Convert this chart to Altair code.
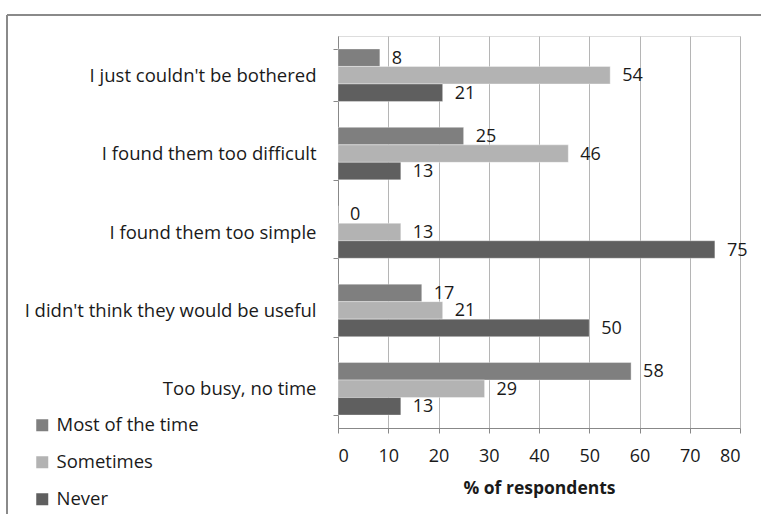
import altair as alt
import pandas as pd

categories = [
    "I just couldn't be bothered",
    "I found them too difficult",
    "I found them too simple",
    "I didn't think they would be useful",
    "Too busy, no time",
]
series = ["Most of the time", "Sometimes", "Never"]
most_of_the_time = [8.33, 25.0, 0.0, 16.67, 58.33]
sometimes = [54.17, 45.83, 12.5, 20.83, 29.17]
never = [20.83, 12.5, 75.0, 50.0, 12.5]
colors = ["#7f7f7f", "#b3b3b3", "#5f5f5f"]
x_ticks = [0, 10, 20, 30, 40, 50, 60, 70, 80]

rows = []
for i, c in enumerate(categories):
    for s, vals in zip(series, [most_of_the_time, sometimes, never]):
        rows.append({"cat": c, "series": s, "value": vals[i], "label": str(int(vals[i] + 0.5))})
df = pd.DataFrame(rows)

FONT = "Open Sans"
TXT = "#1a1a1a"

y_enc = alt.Y(
    "cat:N",
    sort=categories,
    title=None,
    scale=alt.Scale(paddingInner=0.33, paddingOuter=0.165),
    axis=alt.Axis(
        labelFontSize=18.5,
        labelFont=FONT,
        labelColor=TXT,
        labelPadding=17,
        tickSize=5,
        tickBand="extent",
        tickColor="#888888",
        domainColor="#888888",
        labelLimit=400,
    ),
)
yoff = alt.YOffset("series:N", sort=series, scale=alt.Scale(paddingInner=0, paddingOuter=0))
x_enc = alt.X(
    "value:Q",
    title="% of respondents",
    scale=alt.Scale(domain=[0, 80], nice=False),
    axis=alt.Axis(
        values=x_ticks,
        labelFontSize=18,
        labelFont=FONT,
        labelColor=TXT,
        labelPadding=14,
        tickSize=5,
        tickColor="#888888",
        domainColor="#888888",
        gridColor="#b5b5b5",
        titleFont=FONT,
        titleFontSize=17.5,
        titleFontWeight="bold",
        titleColor=TXT,
        titlePadding=14,
    ),
)

bars = alt.Chart(df).mark_bar(stroke="#ffffff", strokeWidth=0.6, strokeOpacity=0.6).encode(
    y=y_enc,
    yOffset=yoff,
    x=x_enc,
    color=alt.Color(
        "series:N",
        sort=series,
        scale=alt.Scale(domain=series, range=colors),
        legend=alt.Legend(
            title=None,
            orient="none",
            legendX=-305,
            legendY=380,
            padding=0,
            symbolType="square",
            symbolSize=144,
            symbolStrokeWidth=0,
            labelFont=FONT,
            labelFontSize=18.5,
            labelColor=TXT,
            labelOffset=5,
            rowPadding=18,
        ),
    ),
)

labels = alt.Chart(df).mark_text(
    align="left", baseline="middle", dx=12, dy=1, font=FONT, fontSize=18, color=TXT
).encode(
    y=alt.Y("cat:N", sort=categories),
    yOffset=yoff,
    x="value:Q",
    text="label:N",
)

border_left = alt.Chart(df).mark_rule(color="#8a8a8a", strokeWidth=2, clip=False).encode(
    x=alt.value(-331), y=alt.value(-21), y2=alt.value(500)
)
border_top = alt.Chart(df).mark_rule(color="#8a8a8a", strokeWidth=2, clip=False).encode(
    x=alt.value(-331), x2=alt.value(500), y=alt.value(-21)
)

chart = (
    alt.layer(bars, labels, border_left, border_top)
    .properties(
        width=402,
        height=392,
        autosize=alt.AutoSizeParams(type="none"),
        padding={"left": 338, "top": 36, "right": 21, "bottom": 86},
    )
    .configure_view(stroke=None)
    .configure(background="#ffffff")
)

chart.save("out.html", embed_options={"renderer": "svg", "actions": False})
